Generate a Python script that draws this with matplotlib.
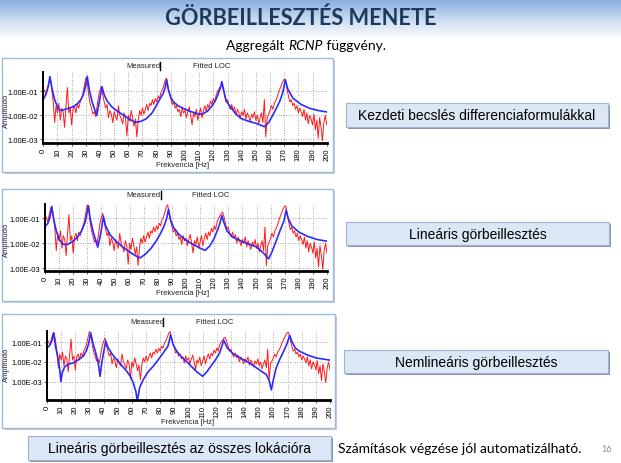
import numpy as np
import matplotlib
matplotlib.use('Agg')
import matplotlib.pyplot as plt
from matplotlib.patches import Rectangle
from matplotlib.colors import LinearSegmentedColormap

# measured amplitude (log10), 1 Hz steps, 0..200 Hz - same in all three panels
freq_meas = np.arange(0, 201)
meas_log = [
    -1.05, -0.95, -1.15, -0.85, -0.6, -0.5, -0.9, -1.45, -2.3, -1.6,
    -1.9, -1.5, -2.2, -1.7, -1.85, -2.5, -1.6, -0.85, -1.9, -1.7,
    -2.4, -1.75, -1.6, -1.9, -1.55, -1.7, -1.45, -1.3, -1.1, -0.75,
    -0.45, -0.6, -1.15, -1.5, -1.7, -1.95, -1.85, -2.05, -1.6, -1.2,
    -0.95, -0.8, -1.15, -1.45, -1.7, -1.55, -2.1, -1.8, -1.95, -2.3,
    -1.85, -2.05, -2.2, -1.6, -2.0, -2.15, -2.35, -1.9, -2.1, -2.85,
    -2.0, -2.25, -1.8, -2.1, -2.45, -2.15, -2.9, -2.2, -1.8, -2.0,
    -1.7, -1.95, -1.75, -1.55, -1.8, -1.5, -1.6, -1.35, -1.55, -1.3,
    -1.45, -1.2, -1.3, -1.05, -0.95, -0.75, -0.55, -0.45, -0.8, -1.1,
    -1.3, -1.55, -1.45, -1.7, -1.6, -1.85, -1.75, -2.05, -1.7, -1.9,
    -1.8, -2.1, -1.85, -1.65, -2.0, -2.4, -1.9, -2.05, -1.75, -2.2,
    -1.95, -1.7, -2.1, -1.8, -1.6, -1.85, -1.55, -1.7, -1.4, -1.55,
    -1.3, -1.45, -1.15, -1.0, -0.9, -0.8, -0.75, -0.95, -1.2, -1.45,
    -1.35, -1.6, -1.75, -1.55, -1.8, -1.65, -2.0, -1.75, -1.9, -2.1,
    -1.85, -2.0, -1.75, -2.15, -1.9, -2.05, -2.25, -1.95, -2.1, -1.85,
    -2.2, -2.0, -2.35, -2.1, -1.9, -2.3, -1.35, -2.9, -2.1, -1.95,
    -1.8, -1.6, -1.75, -1.5, -1.4, -1.25, -1.05, -0.9, -0.75, -0.6,
    -0.5, -0.55, -0.9, -1.2, -1.45, -1.35, -1.6, -1.5, -1.75, -1.6,
    -1.9, -1.7, -1.85, -2.05, -1.75, -2.2, -1.9, -2.35, -2.0, -2.15,
    -2.4, -1.95, -2.6, -2.2, -2.95, -2.1, -2.5, -3.05, -2.3, -2.0,
    -2.4,
]

# fitted LOC, initial estimate (difference formulas)
fit1_f = [0, 2, 3.5, 4.7, 6, 8, 10, 11.8, 14, 17,
          21.2, 24, 26.5, 28.2, 29.8, 31, 32.5, 34.5, 36.5, 37.7,
          39, 40.4, 41.4, 43, 45, 48.2, 52, 56.5, 60.5, 64.7,
          69, 73, 77, 80, 82.5, 84.7, 86, 87, 88.3, 90,
          91.7, 95, 98.8, 103, 107, 110.5, 113, 116, 119, 121.5,
          123.5, 125, 126, 127.3, 129, 132, 136, 139.5, 145, 150,
          153, 156.2, 159, 162, 164.5, 166.8, 169, 170.8, 172.5, 176.2,
          182, 188, 194, 200]
fit1_log = [-1.35, -1.1, -0.8, -0.39, -0.85, -1.35, -1.65, -1.8, -1.78, -1.72,
            -1.64, -1.52, -1.35, -1.15, -0.8, -0.39, -0.95, -1.45, -1.8, -2.01,
            -1.6, -1.15, -0.81, -1.15, -1.4, -1.64, -1.82, -1.99, -2.15, -2.29,
            -2.25, -2.13, -1.88, -1.57, -1.3, -1.08, -0.85, -0.53, -0.95, -1.25,
            -1.43, -1.6, -1.71, -1.82, -1.9, -1.96, -1.93, -1.82, -1.62, -1.38,
            -1.1, -0.85, -0.6, -0.95, -1.39, -1.65, -1.95, -2.13, -2.25, -2.33,
            -2.4, -2.47, -2.3, -1.99, -1.7, -1.43, -1.05, -0.53, -0.9, -1.29,
            -1.55, -1.71, -1.8, -1.86]

# fitted LOC, linear fit
fit2_f = [0, 2, 3.5, 4.7, 6, 8, 10, 13, 16, 20,
          23, 26, 28.5, 30.8, 32, 34, 36, 37.4, 39, 40.3,
          41.4, 43, 46, 50, 55, 60, 64, 67.5, 71, 75,
          79, 82, 84.5, 86.3, 87.6, 89, 91, 95, 100, 105,
          110, 113.6, 117, 120, 122.5, 124.3, 125.4, 126.8, 129, 133,
          140, 145, 150, 155, 158.6, 161, 164, 167, 169.5, 171,
          172.5, 175, 180, 186, 193, 200]
fit2_log = [-1.33, -1.2, -0.95, -0.53, -1.0, -1.5, -1.85, -2.05, -2.05, -1.92,
            -1.75, -1.5, -1.15, -0.49, -1.0, -1.5, -1.9, -2.16, -1.75, -1.35,
            -0.92, -1.3, -1.65, -1.9, -2.15, -2.35, -2.5, -2.59, -2.45, -2.22,
            -1.9, -1.6, -1.3, -1.0, -0.63, -1.05, -1.35, -1.65, -1.88, -2.05,
            -2.2, -2.29, -2.1, -1.8, -1.45, -1.15, -0.89, -1.15, -1.5, -1.75,
            -1.94, -2.05, -2.15, -2.4, -2.63, -2.35, -1.9, -1.45, -1.1, -0.67,
            -1.0, -1.3, -1.55, -1.72, -1.85, -1.92]

# fitted LOC, nonlinear fit
fit3_f = [0, 2, 3.5, 4.6, 6, 8, 9, 9.8, 10.8, 12.5,
          15, 18.6, 22, 25.7, 28, 29.5, 30.9, 32.3, 34.3, 36.3,
          37.5, 38.8, 40.3, 41.5, 43, 46, 49.2, 53, 56.3, 59,
          61, 62.8, 63.8, 65.5, 68, 71.5, 75.1, 78.5, 82.2, 85.5,
          87.4, 89, 91.7, 94.5, 97.5, 101, 105, 108, 110, 113,
          116, 119, 122, 124.9, 127.5, 131, 137, 143, 148, 152,
          155, 157, 158.5, 160, 162, 164.4, 167, 169.5, 171.5, 173,
          175.5, 178.6, 184, 190.3, 200]
fit3_log = [-1.3, -1.15, -0.9, -0.53, -1.2, -1.9, -2.4, -3.0, -2.55, -2.25,
            -2.12, -2.05, -1.9, -1.71, -1.4, -1.05, -0.53, -1.0, -1.5, -2.1,
            -2.73, -2.0, -1.4, -0.95, -1.25, -1.6, -1.88, -2.2, -2.47, -2.75,
            -3.07, -3.5, -4.0, -3.3, -2.9, -2.5, -2.22, -1.9, -1.54, -1.2,
            -0.62, -1.1, -1.46, -1.7, -1.9, -2.15, -2.45, -2.62, -2.73, -2.5,
            -2.2, -1.9, -1.55, -0.9, -1.3, -1.55, -1.82, -2.05, -2.3, -2.5,
            -2.64, -2.95, -3.42, -2.9, -2.3, -1.88, -1.5, -1.1, -0.66, -0.95,
            -1.3, -1.46, -1.65, -1.8, -1.91]

x_ticks = list(range(0, 201, 10))
y_ticks = [1e-3, 1e-2, 1e-1]
y_ticklabels = ['1.00E-03', '1.00E-02', '1.00E-01']

W, H = 621, 464
fig = plt.figure(figsize=(W / 100, H / 100), dpi=100)
fig.patch.set_facecolor('white')

# background layer in pixel coordinates
bg = fig.add_axes([0, 0, 1, 1], zorder=0)
bg.set_xlim(0, W)
bg.set_ylim(H, 0)
bg.axis('off')

cmap = LinearSegmentedColormap.from_list('hdr', ['#86aadb', '#c9daf0', '#ffffff'])
bg.imshow(np.linspace(0, 1, 100)[:, None], cmap=cmap, aspect='auto',
          extent=(0, W, 40, 0), interpolation='bilinear')

bg.text(301, 18, 'GÖRBEILLESZTÉS MENETE', family='Lato', weight='bold',
        fontsize=15.7, color='#1c3a5e', ha='center', va='center')

# subtitle with italic RCNP
renderer = fig.canvas.get_renderer()
parts = [('Aggregált ', 'normal'), ('RCNP', 'italic'), (' függvény.', 'normal')]
texts = []
for s, st in parts:
    texts.append(bg.text(0, 46, s, family='Lato', style=st, fontsize=10,
                         color='black', ha='left', va='center'))
widths = [t.get_window_extent(renderer).width for t in texts]
x = 306 - sum(widths) / 2
for t, w in zip(texts, widths):
    t.set_x(x)
    x += w


def frame(x0, y0, x1, y1):
    bg.add_patch(Rectangle((x0 + 2, y0 + 2), x1 - x0, y1 - y0, facecolor='#c8ccd4',
                           edgecolor='none'))
    bg.add_patch(Rectangle((x0, y0), x1 - x0, y1 - y0, facecolor='white',
                           edgecolor='#9dbbe0', lw=1.0))


def button(x0, y0, x1, y1, label, size=10):
    bg.add_patch(Rectangle((x0 + 1.5, y0 + 1.5), x1 - x0, y1 - y0, facecolor='#8a96a8',
                           edgecolor='none'))
    bg.add_patch(Rectangle((x0, y0), x1 - x0, y1 - y0, facecolor='#dce7f6',
                           edgecolor='#9fb3cf', lw=0.8))
    bg.text((x0 + x1) / 2, (y0 + y1) / 2 + 0.5, label, family='Liberation Sans',
            fontsize=size, ha='center', va='center', color='black')


def panel(fr, ax_px, ylog, fit_f, fit_log, leg, xlab_pos, ylab_pos):
    frame(*fr)
    x0, y0, x1, y1 = ax_px
    ax = fig.add_axes([x0 / W, 1 - y1 / H, (x1 - x0) / W, (y1 - y0) / H], zorder=2)
    ax.set_facecolor('none')
    ax.plot(freq_meas, 10 ** np.array(meas_log), color='#ff0000', lw=0.7, alpha=0.9)
    ax.plot(fit_f, 10 ** np.array(fit_log), color='#2b2bff', lw=1.2)
    ax.set_yscale('log')
    ax.set_xlim(0, 200)
    ax.set_ylim(10 ** ylog[0], 10 ** ylog[1])
    ax.set_xticks(x_ticks)
    ax.set_xticklabels([str(v) for v in x_ticks], rotation=90,
                       family='Liberation Sans', fontsize=5.5)
    ax.set_yticks(y_ticks)
    ax.set_yticklabels(y_ticklabels, family='Liberation Sans', fontsize=5.5)
    ax.yaxis.set_minor_locator(matplotlib.ticker.NullLocator())
    ax.tick_params(axis='both', length=2, width=0.6, pad=1.5, color='#444444')
    ax.grid(True, color='#8a8a8a', lw=0.6, linestyle=(0, (1, 2)))
    for s in ('top', 'right'):
        ax.spines[s].set_visible(False)
    ax.spines['left'].set_linewidth(1.4)
    ax.spines['bottom'].set_linewidth(2.0)
    # legend texts
    lx, ly, bx, fx = leg
    bg.text(lx, ly, 'Measured', family='Liberation Sans', fontsize=5.5,
            ha='center', va='center', color='#222222')
    bg.plot([bx, bx], [ly - 4, ly + 4], color='black', lw=1.0)
    bg.text(fx, ly, 'Fitted LOC', family='Liberation Sans', fontsize=5.5,
            ha='center', va='center', color='#222222')
    bg.text(xlab_pos[0], xlab_pos[1], 'Frekvencia [Hz]', family='Liberation Sans',
            fontsize=5.5, ha='center', va='center', color='#222222')
    bg.text(ylab_pos[0], ylab_pos[1], 'Amplitúdó', family='Liberation Sans',
            fontsize=5.5, ha='center', va='center', rotation=90, color='#222222')
    return ax


panel((2, 59, 333, 173), (43.3, 73, 326.7, 144), (-3.15, -0.2),
      fit1_f, fit1_log, (143, 67, 160, 212), (183, 166), (6, 111))
panel((2, 190, 333, 302), (45, 205, 327, 272), (-3.12, -0.42),
      fit2_f, fit2_log, (143, 196, 161, 211), (183, 294), (6, 240))
panel((2, 315, 335, 429), (47, 332, 330, 400.7), (-3.92, -0.43),
      fit3_f, fit3_log, (147, 323, 163, 215), (188, 422.7), (6, 365))

button(346, 104, 608, 128, 'Kezdeti becslés differenciaformulákkal')
button(346, 223, 609, 246, 'Lineáris görbeillesztés')
button(344, 351, 608, 374, 'Nemlineáris görbeillesztés')
button(28, 437, 331, 461, 'Lineáris görbeillesztés az összes lokációra')

bg.text(338, 449, 'Számítások végzése jól automatizálható.', family='Lato',
        fontsize=10, ha='left', va='center', color='black')
bg.text(607, 450, '16', family='Lato', fontsize=6.5, ha='center', va='center',
        color='#8c8c8c')

fig.savefig('out.png', dpi=100)
